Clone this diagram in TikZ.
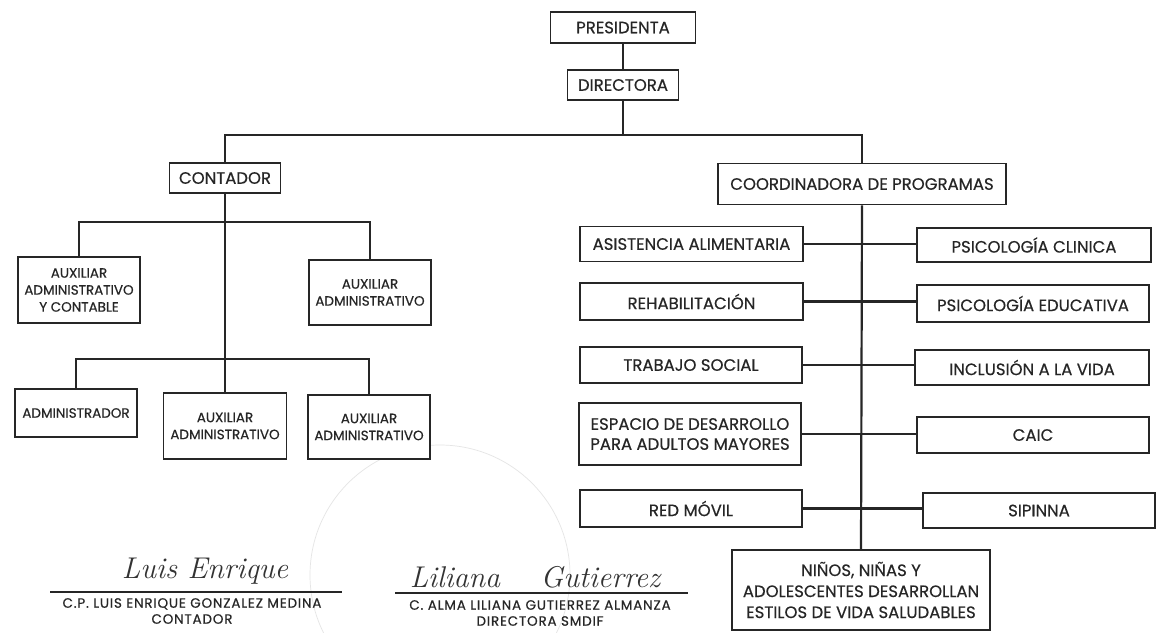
\documentclass[tikz,border=0pt]{standalone}
\usepackage{fontspec}
\newfontfamily\pop{Poppins}[FakeBold=0.4]
\newfontfamily\popw{Poppins}[FakeBold=0.4, LetterSpace=6]
\begin{document}
\begin{tikzpicture}[x=1pt,y=-1pt,
  box/.style={draw=black!85, line width=1.6pt, fill=white, align=center, inner sep=0pt,
    font=\pop\fontsize{16.5}{20}\selectfont, text=black!85},
  smallbox/.style={box, font=\pop\fontsize{13.5}{17}\selectfont},
  link/.style={draw=black!85, line width=2.2pt},
  sigtext/.style={align=center, inner sep=0pt, font=\popw\fontsize{13.5}{16}\selectfont, text=black!85},
  scribble/.style={inner sep=0pt, font=\itshape\fontsize{30}{30}\selectfont, text=black!80},
  sigline/.style={draw=black!85, line width=1.4pt}]
\useasboundingbox (0,0) rectangle (1158,632);
\fill[white] (0,0) rectangle (1158,632);
% stamp
\draw[black!10, line width=0.7pt] (440,575) circle (130);
% top
\node[box, minimum width=145, minimum height=31] (pres) at (623,27.5) {PRESIDENTA};
\node[box, minimum width=111, minimum height=30] (dir) at (623,85) {DIRECTORA};
\node[box, minimum width=111, minimum height=30] (cont) at (225,178) {CONTADOR};
\node[box, minimum width=288, minimum height=41] (coord) at (862,184) {COORDINADORA DE PROGRAMAS};
% left branch
\node[smallbox, minimum width=122, minimum height=66] (aux1) at (79,290) {AUXILIAR\\ADMINISTRATIVO\\Y CONTABLE};
\node[smallbox, minimum width=122, minimum height=65] (aux2) at (370,292.5) {AUXILIAR\\ADMINISTRATIVO};
\node[smallbox, minimum width=122, minimum height=48] (admin) at (76,413) {ADMINISTRADOR};
\node[smallbox, minimum width=123, minimum height=66] (aux3) at (225,426) {AUXILIAR\\ADMINISTRATIVO};
\node[smallbox, minimum width=122, minimum height=64] (aux4) at (369,427) {AUXILIAR\\ADMINISTRATIVO};
% right branch
\node[box, minimum width=223, minimum height=35] (asis) at (691.5,244) {ASISTENCIA ALIMENTARIA};
\node[box, minimum width=234, minimum height=34] (pcl) at (1034,245) {PSICOLOGÍA CLINICA};
\node[box, minimum width=223, minimum height=37] (rehab) at (691.5,301.5) {REHABILITACIÓN};
\node[box, minimum width=232, minimum height=37] (pedu) at (1033,303.5) {PSICOLOGÍA EDUCATIVA};
\node[box, minimum width=222, minimum height=36] (trab) at (691,365) {TRABAJO SOCIAL};
\node[box, minimum width=234, minimum height=35] (incl) at (1032,367.5) {INCLUSIÓN A LA VIDA};
\node[box, minimum width=222, minimum height=62] (esp) at (690,434) {ESPACIO DE DESARROLLO\\PARA ADULTOS MAYORES};
\node[box, minimum width=232, minimum height=36] (caic) at (1033,435) {CAIC};
\node[box, minimum width=222, minimum height=37] (red) at (691,508.5) {RED MÓVIL};
\node[box, minimum width=232, minimum height=35] (sip) at (1039,510.5) {SIPINNA};
\node[box, minimum width=258, minimum height=80, font=\pop\fontsize{16.5}{21}\selectfont] (nin) at (861,590) {NIÑOS, NIÑAS Y\\ADOLESCENTES DESARROLLAN\\ESTILOS DE VIDA SALUDABLES};
% connectors
\coordinate (jt) at (623,135);
\coordinate (jl1) at (225,222);
\coordinate (jl2) at (225,359);
\draw[link] (pres.south) -- (dir.north);
\draw[link] (dir.south) -- (jt);
\draw[link] (cont.north) |- (jt) -| (coord.north);
\draw[link] (cont.south) -- (aux3.north);
\draw[link] (aux1.north) |- (jl1) -| (aux2.north);
\draw[link] (admin.north) |- (jl2) -| (aux4.north);
\draw[link] (coord.south) -- (nin.north);
\foreach \a/\b in {asis/pcl, rehab/pedu, trab/incl, esp/caic, red/sip}
  \draw[link] (\a.east) -- (\a.east -| \b.west);
% signatures
\node[scribble] (s1) at (205,571) {Luis Enrique};
\coordinate (l1a) at (50,592);
\coordinate (l1b) at (342,592);
\draw[sigline] (l1a) -- (l1b);
\node[sigtext] (t1) at (192,611) {C.P. LUIS ENRIQUE GONZALEZ MEDINA\\CONTADOR};
\node[scribble] (s2) at (535,577) {Liliana \quad Gutierrez};
\coordinate (l2a) at (395,593);
\coordinate (l2b) at (688,593);
\draw[sigline] (l2a) -- (l2b);
\node[sigtext] (t2) at (540,613) {C. ALMA LILIANA GUTIERREZ ALMANZA\\DIRECTORA SMDIF};
\end{tikzpicture}
\end{document}
